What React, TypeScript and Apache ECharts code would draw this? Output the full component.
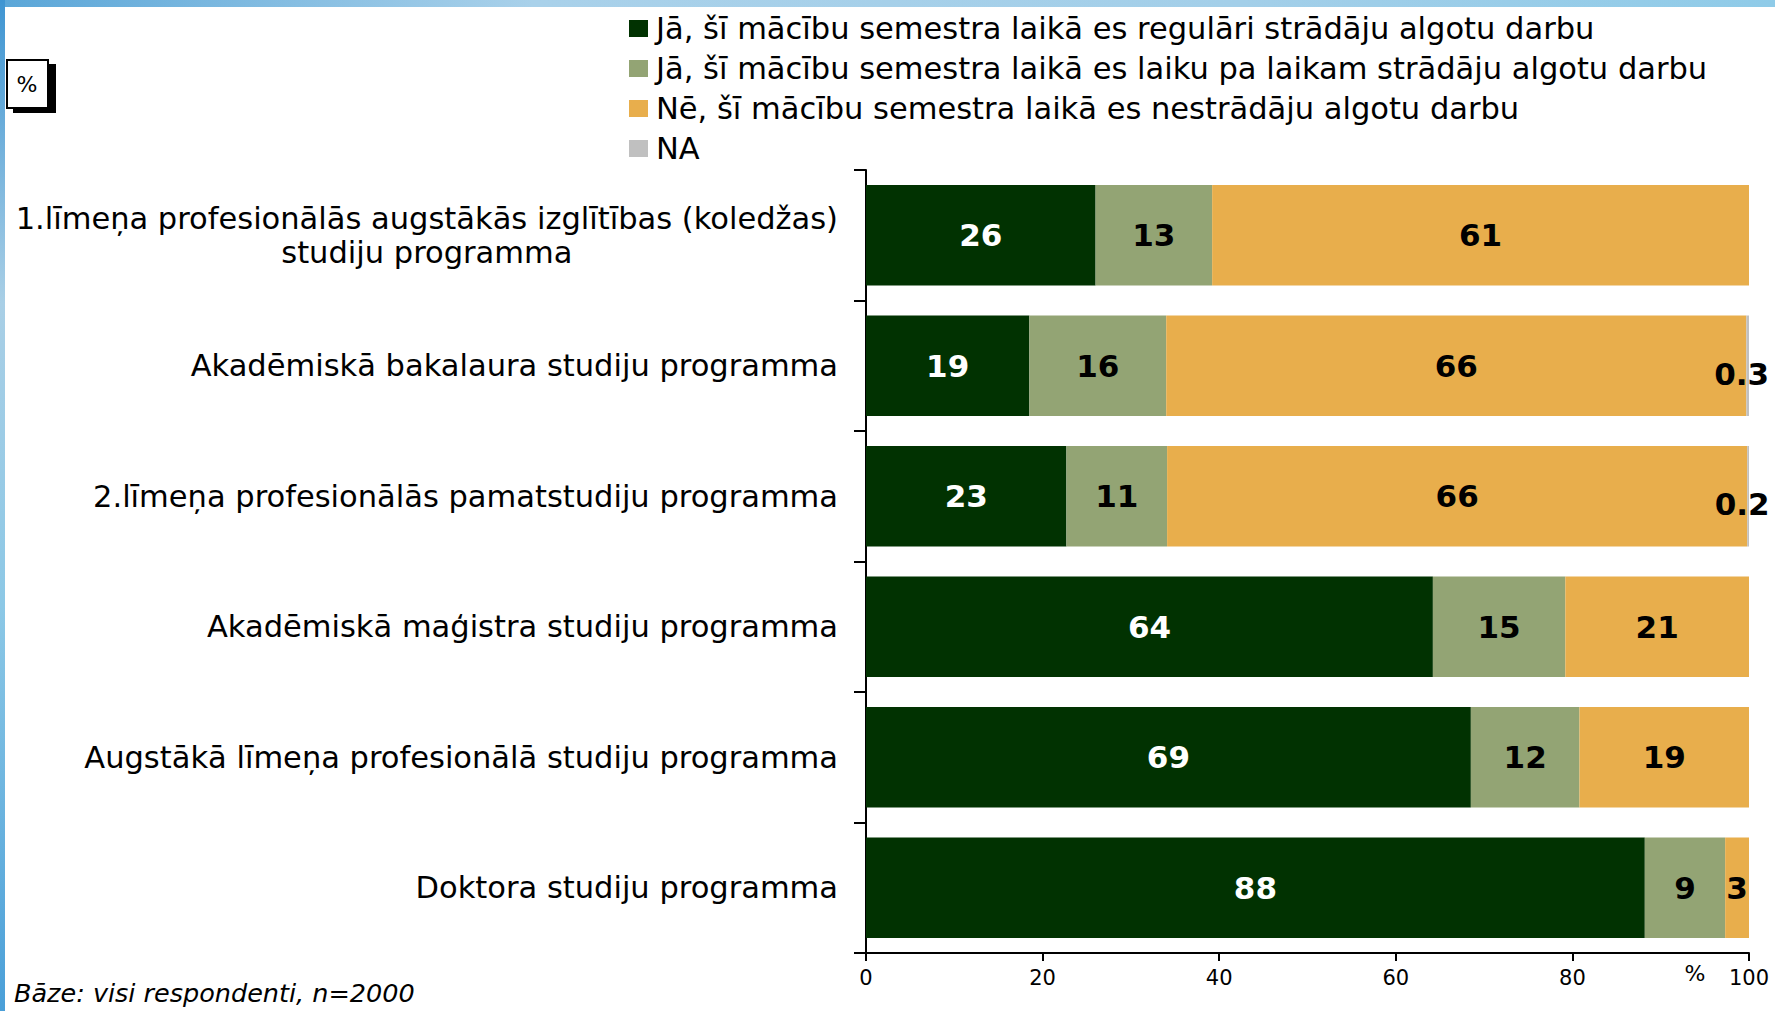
import React, { useEffect, useRef } from "react";
import * as echarts from "echarts";

const categories = [
  "1.līmeņa profesionālās augstākās izglītības (koledžas)\nstudiju programma",
  "Akadēmiskā bakalaura studiju programma",
  "2.līmeņa profesionālās pamatstudiju programma",
  "Akadēmiskā maģistra studiju programma",
  "Augstākā līmeņa profesionālā studiju programma",
  "Doktora studiju programma",
];

const seriesNames = [
  "Jā, šī mācību semestra laikā es regulāri strādāju algotu darbu",
  "Jā, šī mācību semestra laikā es laiku pa laikam strādāju algotu darbu",
  "Nē, šī mācību semestra laikā es nestrādāju algotu darbu",
  "NA",
];

const regularly = [26.0, 18.5, 22.7, 64.2, 68.5, 88.2];
const sometimes = [13.2, 15.5, 11.4, 15.0, 12.3, 9.1];
const notWorking = [60.8, 65.7, 65.7, 20.8, 19.2, 2.7];
const na = [0, 0.3, 0.2, 0, 0, 0];

const xTicks = [0, 20, 40, 60, 80, 100];

const colors = ["#013201", "#93A474", "#E8AE4C", "#C0C0C0"];

const FONT = "'DejaVu Sans', 'Liberation Sans', sans-serif";

function fmt(v: number): string {
  if (!v) return "";
  if (v < 1) return v.toFixed(1);
  return String(Math.round(v));
}

export default function App() {
  const ref = useRef<HTMLDivElement>(null);

  useEffect(() => {
    if (!ref.current) return;
    const chart = echarts.init(ref.current, null, { renderer: "svg" });
    const data = [regularly, sometimes, notWorking, na];
    const labelColors = ["#ffffff", "#000000", "#000000", "#000000"];

    const series = data.map((vals, i) => ({
      name: seriesNames[i],
      type: "bar",
      stack: "total",
      barCategoryGap: "23%",
      itemStyle: { color: colors[i] },
      data: vals,
      label: {
        show: true,
        position: "inside",
        offset: i === 3 ? [-6, 8] : [0, 0],
        color: labelColors[i],
        fontFamily: FONT,
        fontWeight: "bold",
        fontSize: 31,
        formatter: (p: any) => fmt(p.value),
      },
    }));

    chart.setOption({
      animation: false,
      backgroundColor: "#ffffff",
      textStyle: { fontFamily: FONT },
      grid: { left: 866, right: 26, top: 170, bottom: 58, containLabel: false },
      legend: {
        orient: "vertical",
        left: 624,
        top: 8,
        icon: "rect",
        itemWidth: 19,
        itemHeight: 17,
        itemGap: 9,
        data: seriesNames,
        textStyle: { fontFamily: FONT, fontSize: 30.5, color: "#000", lineHeight: 30, padding: [0, 0, 0, 3] },
      },
      xAxis: {
        type: "value",
        min: xTicks[0],
        max: xTicks[xTicks.length - 1],
        interval: 20,
        axisLine: { show: true, lineStyle: { color: "#000", width: 2 } },
        axisTick: { show: true, length: 8, lineStyle: { color: "#000", width: 2 } },
        axisLabel: { color: "#000", fontSize: 21, margin: 14, fontFamily: FONT },
        splitLine: { show: false },
      },
      yAxis: {
        type: "category",
        inverse: true,
        data: categories,
        axisLine: { show: true, lineStyle: { color: "#000", width: 2 } },
        axisTick: { show: true, length: 12, alignWithLabel: false, lineStyle: { color: "#000", width: 2 } },
        axisLabel: {
          color: "#000",
          fontSize: 30.5,
          margin: 28,
          align: "right",
          fontFamily: FONT,
          lineHeight: 34,
          formatter: (v: string) =>
            v
              .split("\n")
              .map((line, k) => (k === 0 ? `{a|${line}}` : `{c|${line}}`))
              .join("\n"),
          rich: {
            a: { fontSize: 30.5, fontFamily: FONT, color: "#000", lineHeight: 34 },
            c: { fontSize: 30.5, fontFamily: FONT, color: "#000", lineHeight: 34, align: "center" },
          },
        },
      },
      graphic: [
        {
          type: "rect",
          shape: { x: 0, y: 0, width: 1775, height: 7 },
          style: {
            fill: new echarts.graphic.LinearGradient(0, 0, 1, 0, [
              { offset: 0, color: "#5aa6d8" },
              { offset: 0.3, color: "#a9d1ea" },
              { offset: 0.7, color: "#a3cfe9" },
              { offset: 1, color: "#8fcbe8" },
            ]),
          },
        },
        {
          type: "rect",
          shape: { x: 0, y: 0, width: 5, height: 1011 },
          style: {
            fill: new echarts.graphic.LinearGradient(0, 0, 0, 1, [
              { offset: 0, color: "#3f95d2" },
              { offset: 0.3, color: "#a9cfe6" },
              { offset: 0.6, color: "#8cc8e6" },
              { offset: 1, color: "#4a9fd8" },
            ]),
          },
        },
        {
          type: "rect",
          shape: { x: 13, y: 64, width: 43, height: 49 },
          style: { fill: "#000" },
        },
        {
          type: "rect",
          shape: { x: 7, y: 60, width: 41, height: 48 },
          style: { fill: "#fff", stroke: "#000", lineWidth: 2 },
        },
        {
          type: "text",
          x: 27,
          y: 84,
          style: { text: "%", fontSize: 22, fontFamily: FONT, fill: "#000", align: "center", verticalAlign: "middle" },
        },
        {
          type: "text",
          x: 1695,
          y: 973,
          style: { text: "%", fontSize: 22, fontFamily: FONT, fill: "#000", align: "center", verticalAlign: "middle" },
        },
        {
          type: "text",
          x: 14,
          y: 993,
          style: {
            text: "Bāze: visi respondenti, n=2000",
            fontSize: 25.5,
            fontStyle: "italic",
            fontFamily: FONT,
            fill: "#000",
            align: "left",
            verticalAlign: "middle",
          },
        },
      ],
      series,
    });

    return () => chart.dispose();
  }, []);

  return (
    <div
      ref={ref}
      style={{ position: "fixed", left: 0, top: 0, width: 1775, height: 1011 }}
    />
  );
}
